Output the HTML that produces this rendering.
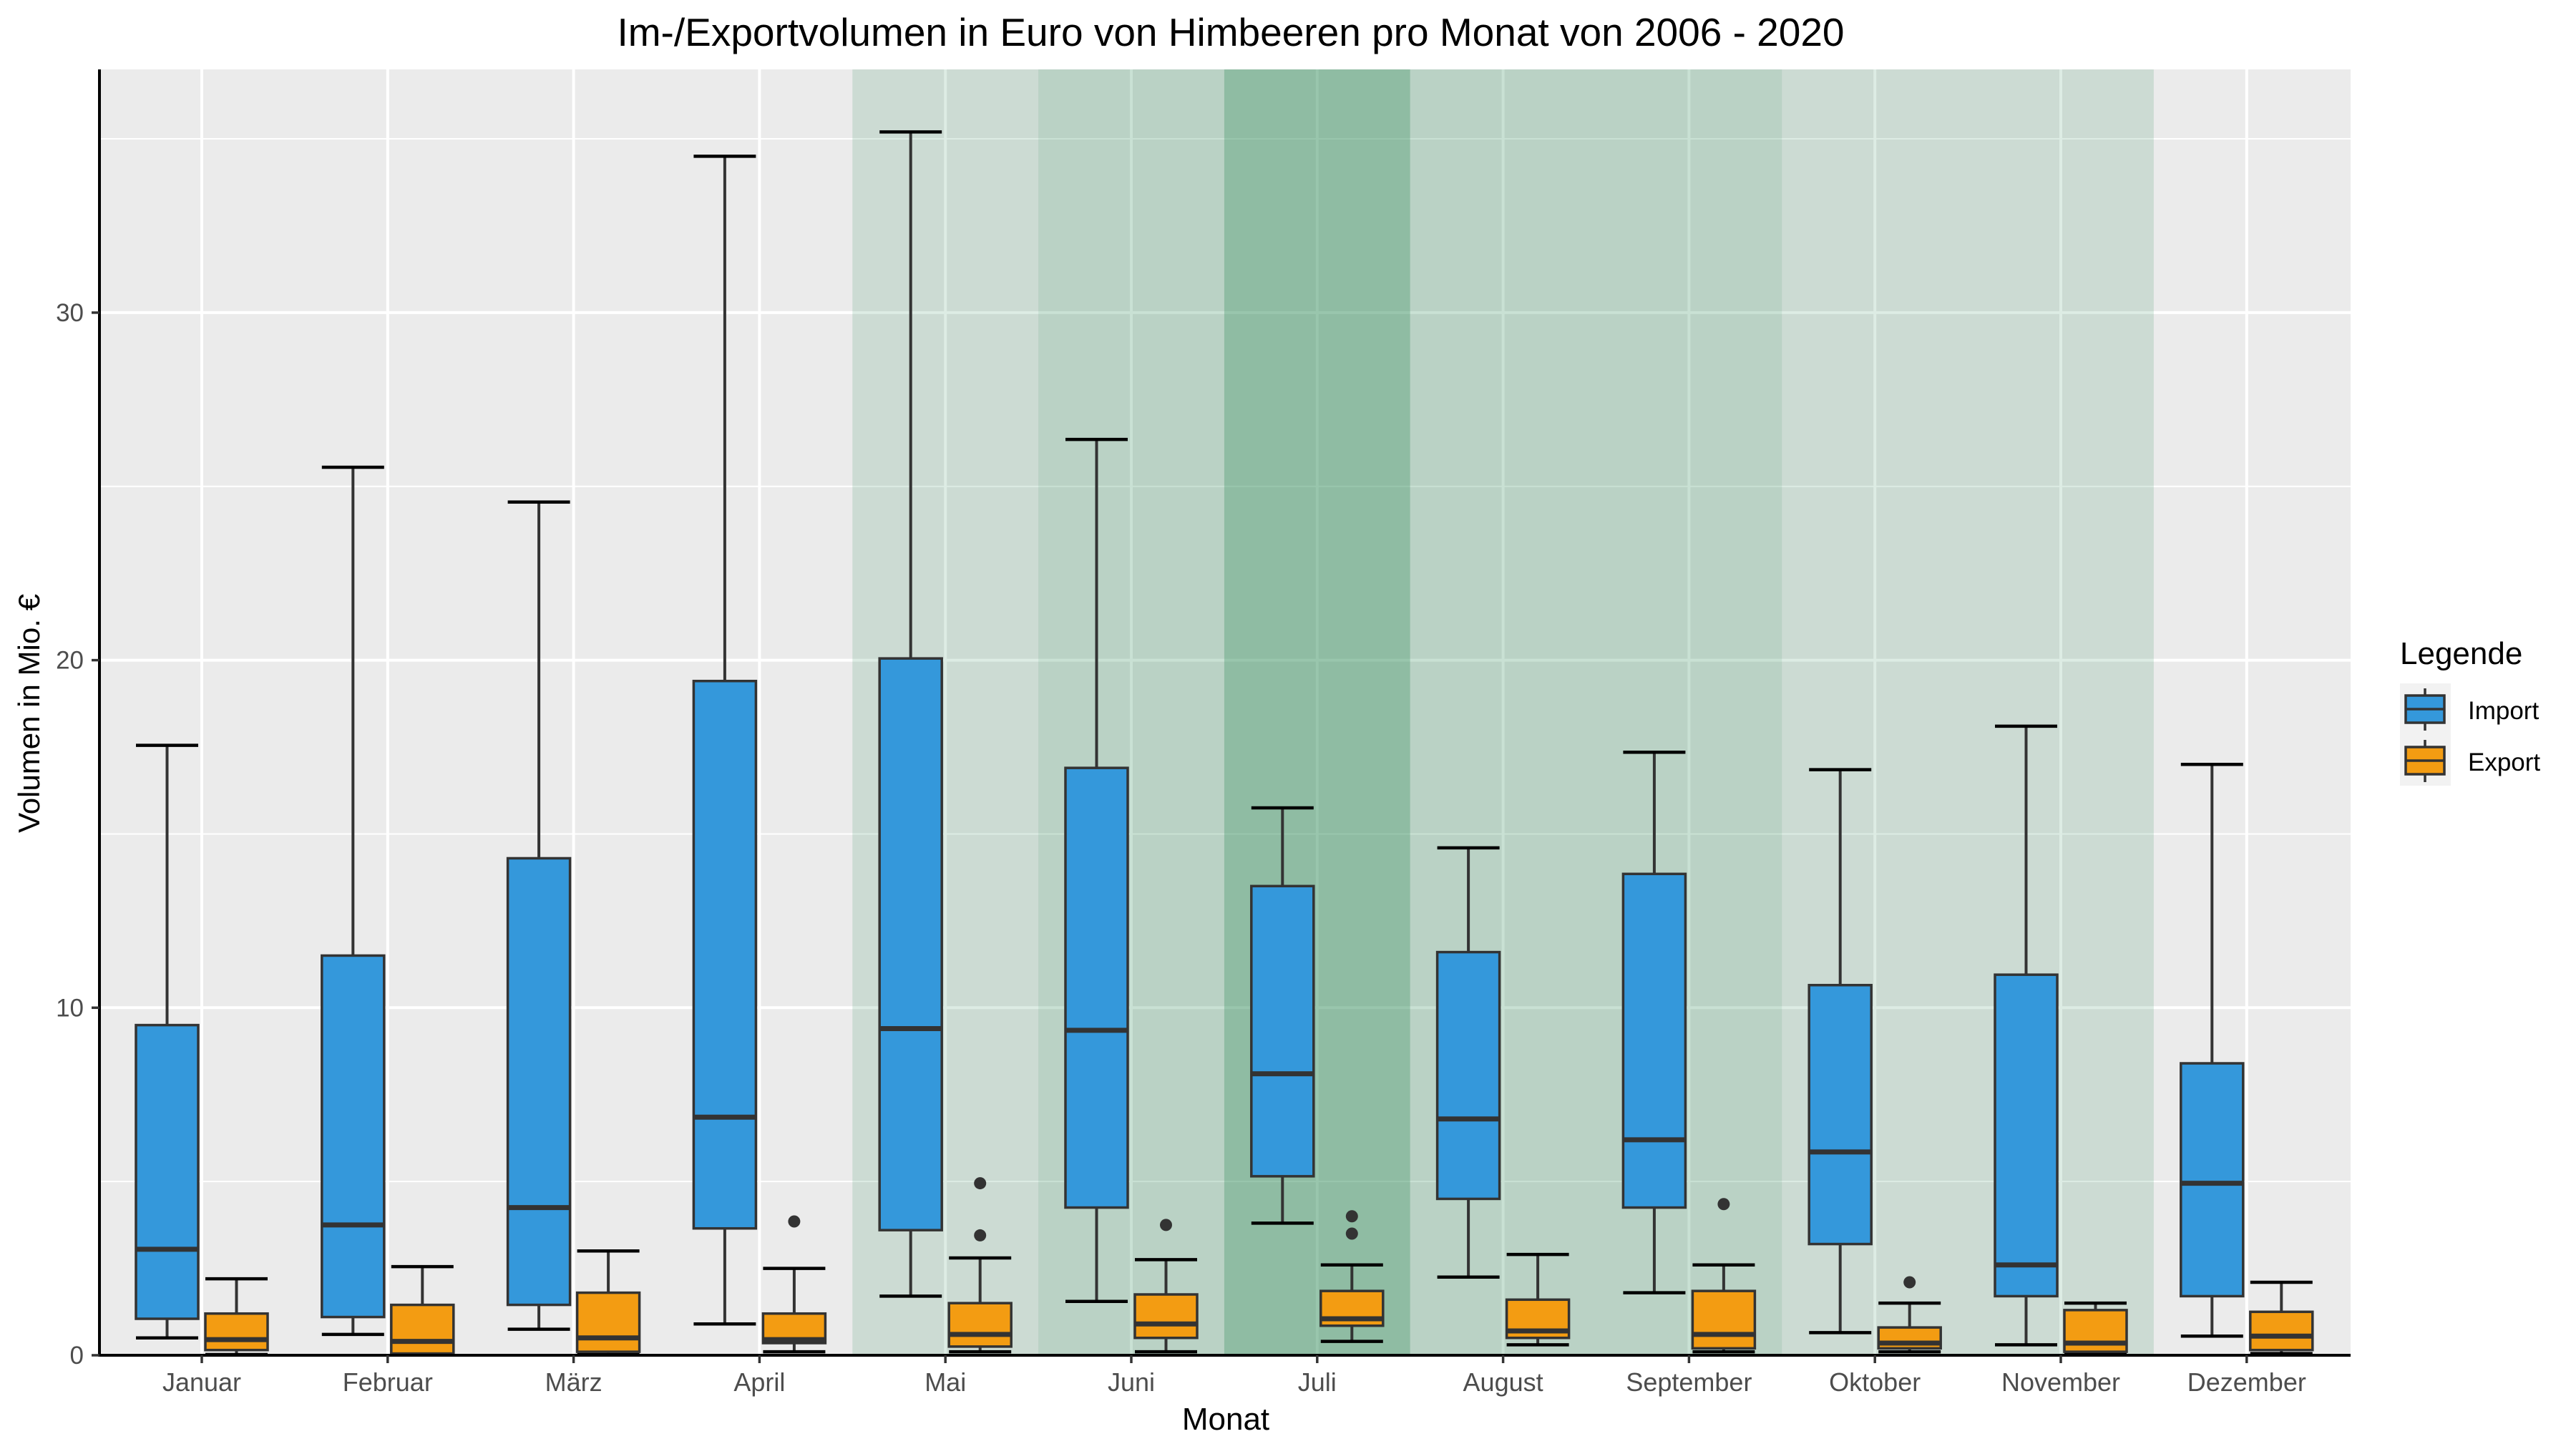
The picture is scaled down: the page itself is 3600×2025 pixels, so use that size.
<!DOCTYPE html>
<html><head><meta charset="utf-8"><style>
html,body{margin:0;padding:0;background:#fff;}
svg{display:block;font-family:"Liberation Sans",Arial,sans-serif;}
</style></head><body>
<svg id="chart" width="3600" height="2025" viewBox="0 0 3600 2025" xmlns="http://www.w3.org/2000/svg">
<text x="1720" y="64" font-size="55" text-anchor="middle" fill="#000">Im-/Exportvolumen in Euro von Himbeeren pro Monat von 2006 - 2020</text>
<text x="1713" y="1998" font-size="44" text-anchor="middle" fill="#000">Monat</text>
<text transform="translate(55,997) rotate(-90)" font-size="42" text-anchor="middle" fill="#000">Volumen in Mio. €</text>
<g id="plot"></g>
<g>
<text x="3354" y="928" font-size="44" fill="#000">Legende</text>
<rect x="3354" y="955" width="71" height="143" fill="#f2f2f2"/>
<g>
<line x1="3389" y1="962" x2="3389" y2="1021" stroke="#333" stroke-width="3.5"/>
<rect x="3362" y="972" width="54" height="38" fill="#3498db" stroke="#333" stroke-width="3.5"/>
<line x1="3362" y1="991" x2="3416" y2="991" stroke="#333" stroke-width="3.5"/>
<text x="3449" y="1005" font-size="35" fill="#000">Import</text>
</g>
<g>
<line x1="3389" y1="1034" x2="3389" y2="1093" stroke="#333" stroke-width="3.5"/>
<rect x="3362" y="1044" width="54" height="38" fill="#f39c12" stroke="#333" stroke-width="3.5"/>
<line x1="3362" y1="1063" x2="3416" y2="1063" stroke="#333" stroke-width="3.5"/>
<text x="3449" y="1077" font-size="35" fill="#000">Export</text>
</g>
</g>
</svg>
<script>
const months = ["Januar","Februar","März","April","Mai","Juni","Juli","August","September","Oktober","November","Dezember"];
// [lower whisker, q1, median, q3, upper whisker]
const importStats = [
 [0.5,1.05,3.05,9.5,17.55],[0.6,1.1,3.75,11.5,25.55],[0.75,1.45,4.25,14.3,24.55],[0.9,3.65,6.85,19.4,34.5],
 [1.7,3.6,9.4,20.05,35.2],[1.55,4.25,9.35,16.9,26.35],[3.8,5.15,8.1,13.5,15.75],[2.25,4.5,6.8,11.6,14.6],
 [1.8,4.25,6.2,13.85,17.35],[0.65,3.2,5.85,10.65,16.85],[0.3,1.7,2.6,10.95,18.1],[0.55,1.7,4.95,8.4,17.0]];
const exportStats = [
 [0.02,0.15,0.45,1.2,2.2],[0.02,0.05,0.4,1.45,2.55],[0.02,0.1,0.5,1.8,3.0],[0.1,0.35,0.45,1.2,2.5],
 [0.1,0.25,0.6,1.5,2.8],[0.1,0.5,0.9,1.75,2.75],[0.4,0.85,1.05,1.85,2.6],[0.3,0.5,0.7,1.6,2.9],
 [0.1,0.2,0.6,1.85,2.6],[0.1,0.2,0.35,0.8,1.5],[0.05,0.1,0.35,1.3,1.5],[0.05,0.15,0.55,1.25,2.1]];
const exportOutliers = [[],[],[],[3.85],[3.45,4.95],[3.75],[3.5,4.0],[],[4.35],[2.1],[],[]];
const bandOpacity = [0,0,0,0,0.16,0.26,0.49,0.26,0.26,0.16,0.16,0];
const yTicks = [0,10,20,30];
const yMinor = [5,15,25,35];

const L=139,R=3285,T=97,B=1894, STEP=259.8, X0=282, UNIT=48.57;
const xs=i=>X0+i*STEP;
const ys=v=>B-v*UNIT;
const NS="http://www.w3.org/2000/svg";
const plot=document.getElementById('plot');
function el(tag,attrs,parent){const e=document.createElementNS(NS,tag);for(const k in attrs)e.setAttribute(k,attrs[k]);(parent||plot).appendChild(e);return e;}

const bg=el('rect',{x:L,y:T,width:R-L,height:B-T,fill:'#ebebeb'});


yMinor.forEach(v=>{el('line',{x1:L,x2:R,y1:ys(v),y2:ys(v),stroke:'#fff','stroke-width':2});});
yTicks.forEach(v=>{const g=el('line',{x1:L,x2:R,y1:ys(v),y2:ys(v),stroke:'#fff','stroke-width':4});

});
months.forEach((m,i)=>{el('line',{x1:xs(i),x2:xs(i),y1:T,y2:B,stroke:'#fff','stroke-width':4});});
bandOpacity.forEach((o,i)=>{ if(o>0){const r=el('rect',{x:xs(i)-STEP/2,y:T,width:STEP,height:B-T,fill:'#2e8b57','fill-opacity':o});

}});

const BW=87, OFF=48.5;
function box(cx,s,fill,name){
 const g=el('g',{});
 
 
 el('line',{x1:cx,x2:cx,y1:ys(s[0]),y2:ys(s[1]),stroke:'#333','stroke-width':4},g);
 el('line',{x1:cx,x2:cx,y1:ys(s[3]),y2:ys(s[4]),stroke:'#333','stroke-width':4},g);
 el('line',{x1:cx-BW/2,x2:cx+BW/2,y1:ys(s[0]),y2:ys(s[0]),stroke:'#000','stroke-width':4.5},g);
 el('line',{x1:cx-BW/2,x2:cx+BW/2,y1:ys(s[4]),y2:ys(s[4]),stroke:'#000','stroke-width':4.5},g);
 el('rect',{x:cx-BW/2,y:ys(s[3]),width:BW,height:ys(s[1])-ys(s[3]),fill:fill,stroke:'#333','stroke-width':3.5},g);
 el('line',{x1:cx-BW/2,x2:cx+BW/2,y1:ys(s[2]),y2:ys(s[2]),stroke:'#333','stroke-width':7},g);
 return g;
}
months.forEach((m,i)=>{
 box(xs(i)-OFF,importStats[i],'#3498db','import-box-'+m.toLowerCase());
 const g=box(xs(i)+OFF,exportStats[i],'#f39c12','export-box-'+m.toLowerCase());
 exportOutliers[i].forEach(v=>{const c=el('circle',{cx:xs(i)+OFF,cy:ys(v),r:8.5,fill:'#333'},g);
 
 });
});

// axes
el('line',{x1:L,x2:L,y1:T,y2:B+2,stroke:'#000','stroke-width':4});
el('line',{x1:L-2,x2:R,y1:B,y2:B,stroke:'#000','stroke-width':4});
yTicks.forEach(v=>{
 el('line',{x1:L-11,x2:L,y1:ys(v),y2:ys(v),stroke:'#333','stroke-width':3.5});
 const t=el('text',{x:L-22,y:ys(v)+12,'font-size':35,'text-anchor':'end',fill:'#4d4d4d'});
 t.textContent=v;
 
 
});
months.forEach((m,i)=>{
 el('line',{x1:xs(i),x2:xs(i),y1:B,y2:B+11,stroke:'#333','stroke-width':3.5});
 const t=el('text',{x:xs(i),y:1944,'font-size':36,'text-anchor':'middle',fill:'#4d4d4d'});
 t.textContent=m;
 
 
});
</script>
</body></html>
